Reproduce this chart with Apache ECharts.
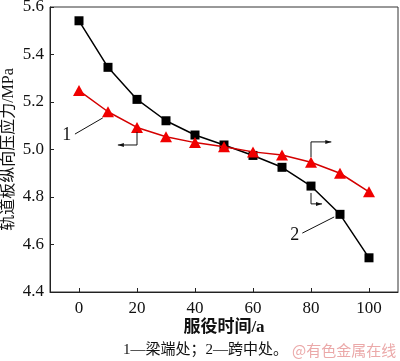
<!DOCTYPE html>
<html><head><meta charset="utf-8">
<script src="https://cdn.jsdelivr.net/npm/echarts@6/dist/echarts.min.js"></script>
<style>html,body{margin:0;padding:0;background:#fff}#c{width:400px;height:361px}</style>
</head><body><div id="c"></div>
<script>
const years = [0,10,20,30,40,50,60,70,80,90,100];
const beamEnd = [5.248,5.159,5.093,5.054,5.029,5.012,4.99,4.977,4.946,4.90,4.822]; // curve 1
const midSpan = [5.542,5.346,5.211,5.121,5.061,5.019,4.975,4.925,4.846,4.727,4.544]; // curve 2
const xTicks = [0,20,40,60,80,100];
const yTicks = [4.4,4.6,4.8,5.0,5.2,5.4,5.6];
const yTitle = '轨道板纵向压应力/MPa';
const xTitle = '服役时间/a';
const caption = '1—梁端处；2—跨中处。';
const watermark = '@有色金属在线';

const serif = 'Liberation Serif';
const mixed = 'Liberation Serif, Noto Sans CJK SC';
const chart = echarts.init(document.getElementById('c'));
chart.setOption({
  animation:false,
  grid:{left:50,right:2,top:7,bottom:69,show:true,borderColor:'#333',borderWidth:1,backgroundColor:'transparent',
    containLabel:false,outerBoundsMode:'none'},
  xAxis:{type:'value',min:-10,max:110,interval:10,
    axisLine:{onZero:false,lineStyle:{color:'#222',width:1}},
    axisTick:{inside:true,length:4,lineStyle:{color:'#222'},
      customValues:xTicks},
    splitLine:{show:false},
    axisLabel:{fontFamily:serif,fontSize:17,color:'#111',margin:8,customValues:xTicks,
      formatter:v=>String(v)},
    name:xTitle,nameLocation:'middle',nameGap:27,nameMoveOverlap:false,
    nameTextStyle:{fontFamily:mixed,fontSize:17,fontWeight:'bold',color:'#111'}
  },
  yAxis:{type:'value',min:4.4,max:5.6,interval:0.2,
    axisLine:{show:true,onZero:false,lineStyle:{color:'#222',width:1}},
    axisTick:{show:true,inside:true,length:4,lineStyle:{color:'#222'}},
    splitLine:{show:false},
    axisLabel:{fontFamily:serif,fontSize:17,color:'#111',margin:6,formatter:v=>v.toFixed(1)},
    name:yTitle,nameLocation:'middle',nameGap:33,nameMoveOverlap:false,
    nameTextStyle:{fontFamily:mixed,fontSize:16,color:'#111'}
  },
  series:[
    {name:'2',type:'line',data:years.map((x,i)=>[x,midSpan[i]]),symbol:'rect',symbolSize:9,
      lineStyle:{color:'#000',width:1.5},itemStyle:{color:'#000'},z:2},
    {name:'1',type:'line',data:years.map((x,i)=>[x,beamEnd[i]]),symbol:'triangle',symbolSize:[12,11],
      lineStyle:{color:'#d40000',width:1.5},itemStyle:{color:'#f00000'},z:3}
  ]
});

// annotations placed in data coordinates
const P = (x,y)=>chart.convertToPixel({gridIndex:0},[x,y]);
const lines = [
  [[-1.4,5.065],[8.2,5.133]],
  [[77,4.648],[88,4.716]]
];
const arrows = [ // polyline with arrow at end
  [[20,5.074],[20,5.019],[13.4,5.019]],
  [[80,4.968],[80,5.032],[87,5.032]],
  [[80,4.817],[80,4.771],[83.8,4.771]]
];
const labels = [['1',-4.2,5.061],['2',74.4,4.637]];
const g = [];
lines.forEach(l=>{const a=P(...l[0]),b=P(...l[1]);
  g.push({type:'line',shape:{x1:a[0],y1:a[1],x2:b[0],y2:b[1]},style:{stroke:'#111',lineWidth:1},z:10});});
arrows.forEach(pts=>{
  const px=pts.map(p=>P(...p));
  g.push({type:'polyline',shape:{points:px},style:{stroke:'#111',lineWidth:1,fill:null},z:10});
  const e=px[px.length-1], s=px[px.length-2];
  const dir=Math.sign(e[0]-s[0]);
  g.push({type:'polygon',shape:{points:[[e[0],e[1]],[e[0]-dir*6,e[1]-2],[e[0]-dir*6,e[1]+2]]},style:{fill:'#111'},z:10});
});
labels.forEach(([t,x,y])=>{const p=P(x,y);
  g.push({type:'text',x:p[0],y:p[1],style:{text:t,font:'18px "Liberation Serif",serif',fill:'#111',align:'center',verticalAlign:'middle'},z:10});});
g.push({type:'text',x:123,y:350,style:{text:caption,font:'15px "Liberation Serif","Noto Sans CJK SC",sans-serif',fill:'#111',verticalAlign:'middle'},z:10});
g.push({type:'text',x:292,y:350,style:{text:watermark,font:'15px "Noto Sans CJK SC",sans-serif',fill:'#eba9a9',verticalAlign:'middle'},z:10});
chart.setOption({graphic:g.map((e,i)=>Object.assign({id:'a'+i},e))});
</script></body></html>
